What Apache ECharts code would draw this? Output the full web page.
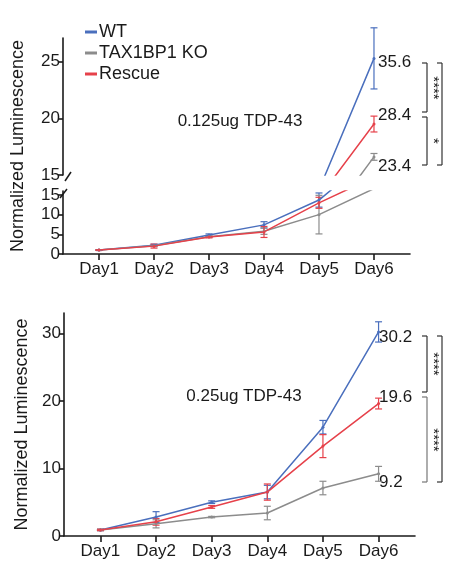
<!DOCTYPE html>
<html><head><meta charset="utf-8">
<script src="https://cdn.jsdelivr.net/npm/echarts@6/dist/echarts.min.js"></script>
<style>html,body{margin:0;padding:0;background:#fff}#c{width:449px;height:565px}</style>
</head><body><div id="c"></div>
<script>
const days = ['Day1','Day2','Day3','Day4','Day5','Day6'];
const seriesNames = ['WT','TAX1BP1 KO','Rescue'];
const colors = ['#4a6fbd','#8c8c8c','#e6414a'];

// Panel A: 0.125ug TDP-43
const wtA = [1.0, 2.2, 4.8, 7.4, 13.7, 25.3];
const wtAErr = [0.1, 0.3, 0.3, 0.8, 1.8, 2.7];
const koA = [1.0, 2.1, 4.4, 5.8, 10.0, 16.6];
const koAErr = [0.1, 0.2, 0.2, 0.8, 4.9, 0.3];
const resA = [1.0, 2.0, 4.3, 5.6, 13.0, 19.5];
const resAErr = [0.1, 0.5, 0.2, 1.4, 1.4, 0.7];
const endLabelsA = ['35.6','28.4','23.4'];
const sigA = ['****','*','****'];

// Panel B: 0.25ug TDP-43
const wtB = [0.9, 2.8, 5.0, 6.5, 16.1, 30.2];
const wtBErr = [0.1, 0.8, 0.2, 1.0, 1.0, 1.5];
const koB = [0.9, 1.8, 2.8, 3.4, 7.1, 9.2];
const koBErr = [0.1, 0.6, 0.1, 1.0, 1.0, 1.1];
const resB = [0.9, 2.1, 4.3, 6.5, 13.3, 19.6];
const resBErr = [0.1, 0.5, 0.2, 1.2, 1.7, 0.8];
const endLabelsB = ['30.2','19.6','9.2'];
const sigB = ['****','****','****'];

const FONT = 'Liberation Sans, Arial, sans-serif';
const TXT = '#1a1a1a';

const chart = echarts.init(document.getElementById('c'), null, {renderer:'canvas'});

function xAxisCfg(gi, show) {
  return {
    type:'value', gridIndex:gi, min:0.345, max:6.655, show:show,
    splitLine:{show:false},
    axisLine:{show:true, lineStyle:{color:TXT, width:1.6}},
    axisTick:{show:true, length:6, lineStyle:{color:TXT, width:1.6}, customValues:[1,2,3,4,5,6]},
    axisLabel:{show:true, customValues:[1,2,3,4,5,6], formatter:v=>days[Math.round(v)-1],
      fontSize:17, fontFamily:FONT, color:TXT, margin:7}
  };
}
function yAxisCfg(gi, min, max, interval, extra) {
  return Object.assign({
    type:'value', gridIndex:gi, min:min, max:max, interval:interval,
    splitLine:{show:false},
    axisLine:{show:true, lineStyle:{color:TXT, width:1.6}},
    axisTick:{show:true, length:5, lineStyle:{color:TXT, width:1.6}},
    axisLabel:{fontSize:17, fontFamily:FONT, color:TXT, margin:3, showMaxLabel:false}
  }, extra||{});
}

const series = [];
function addLine(name, color, vals, gi) {
  series.push({
    name:name, type:'line', xAxisIndex:gi, yAxisIndex:gi,
    data: vals.map((v,i)=>[i+1, v]),
    lineStyle:{color:color, width:1.5}, itemStyle:{color:color},
    symbol:'circle', symbolSize:3, clip:true, silent:true, z:3
  });
}
function addErr(name, color, vals, errs, gi, keep) {
  const d = [];
  vals.forEach((v,i)=>{ if (keep(v)) d.push([i+1, v-errs[i], v+errs[i]]); });
  series.push({
    name:name, type:'custom', xAxisIndex:gi, yAxisIndex:gi, data:d, silent:true, z:2,
    encode:{x:0, y:[1,2]},
    renderItem:(params, api)=>{
      const lo = api.coord([api.value(0), api.value(1)]);
      const hi = api.coord([api.value(0), api.value(2)]);
      const w = 3.5;
      const st = {stroke:color, lineWidth:1.2};
      return {type:'group', children:[
        {type:'line', shape:{x1:lo[0], y1:lo[1], x2:hi[0], y2:hi[1]}, style:st},
        {type:'line', shape:{x1:lo[0]-w, y1:lo[1], x2:lo[0]+w, y2:lo[1]}, style:st},
        {type:'line', shape:{x1:hi[0]-w, y1:hi[1], x2:hi[0]+w, y2:hi[1]}, style:st}
      ]};
    }
  });
}

const setA = [[wtA, wtAErr],[koA, koAErr],[resA, resAErr]];
const setB = [[wtB, wtBErr],[koB, koBErr],[resB, resBErr]];
seriesNames.forEach((n,k)=>{
  addLine(n, colors[k], setA[k][0], 0);
  addLine(n, colors[k], setA[k][0], 1);
  addLine(n, colors[k], setB[k][0], 2);
});
seriesNames.forEach((n,k)=>{
  addErr(n, colors[k], setA[k][0], setA[k][1], 0, v=>v>15);
  addErr(n, colors[k], setA[k][0], setA[k][1], 1, v=>v<=16);
  addErr(n, colors[k], setB[k][0], setB[k][1], 2, v=>true);
});

const graphics = [];
function text(x, y, s, size, opts) {
  graphics.push(Object.assign({type:'text', x:x, y:y, style:{text:s, font:`${size}px ${FONT}`, fill:TXT,
    align:(opts&&opts.align)||'left', verticalAlign:'middle'}}, opts&&opts.rot?{rotation:opts.rot}:{}));
}
function line(x1,y1,x2,y2,color,w) {
  graphics.push({type:'line', shape:{x1,y1,x2,y2}, style:{stroke:color||TXT, lineWidth:w||1.2}});
}
function bracket(x, y1, y2, color) {
  line(x-5, y1, x, y1, color); line(x, y1, x, y2, color); line(x-5, y2, x, y2, color);
}
// y-axis titles
text(18, 146, 'Normalized Luminescence', 18, {align:'center', rot:Math.PI/2});
// inner annotations
text(240, 121, '0.125ug TDP-43', 17, {align:'center'});
text(244, 396, '0.25ug TDP-43', 17, {align:'center'});
// break marks
line(65, 181, 71, 172, TXT, 1.5);
line(60, 198, 67, 189, TXT, 1.5);
// end labels panel A
const yA = [62, 115, 166];
endLabelsA.forEach((s,i)=>text(378, yA[i], s, 17));
bracket(427, 63, 112, '#333'); bracket(427, 117, 165, '#333'); bracket(442, 63, 165, '#333');
text(433, 88, sigA[0], 15, {align:'center', rot:-Math.PI/2});
text(433, 141, sigA[1], 15, {align:'center', rot:-Math.PI/2});
text(449, 114, sigA[2], 15, {align:'center', rot:-Math.PI/2});
// end labels panel B
const yB = [337, 397, 482];
endLabelsB.forEach((s,i)=>text(379, yB[i], s, 17));
bracket(427, 336, 392, '#333'); bracket(427, 397, 482, '#777'); bracket(442, 336, 482, '#333');
text(433, 364, sigB[0], 15, {align:'center', rot:-Math.PI/2});
text(433, 440, sigB[1], 15, {align:'center', rot:-Math.PI/2});
text(449, 409, sigB[2], 15, {align:'center', rot:-Math.PI/2});

chart.setOption({
  animation:false,
  backgroundColor:'#fff',
  grid:[
    {left:63, top:38, width:347, height:137},
    {left:63, top:191, width:347, height:63},
    {left:64, top:313, width:351, height:223}
  ],
  xAxis:[xAxisCfg(0,false), xAxisCfg(1,true), xAxisCfg(2,true)],
  yAxis:[
    yAxisCfg(0, 15, 27.1, 5),
    yAxisCfg(1, 0, 16, 5),
    yAxisCfg(2, 0, 33, 10, {name:'Normalized Luminescence', nameLocation:'middle', nameGap:32,
      nameTextStyle:{fontSize:18, fontFamily:FONT, color:TXT}})
  ],
  legend:{
    data:seriesNames, orient:'vertical', left:80, top:18, icon:'rect', itemWidth:12, itemHeight:3,
    itemGap:3, textStyle:{fontSize:18, fontFamily:FONT, color:TXT, lineHeight:18, padding:[0,0,0,-3]}
  },
  series:series,
  graphic:graphics
});
</script></body></html>
